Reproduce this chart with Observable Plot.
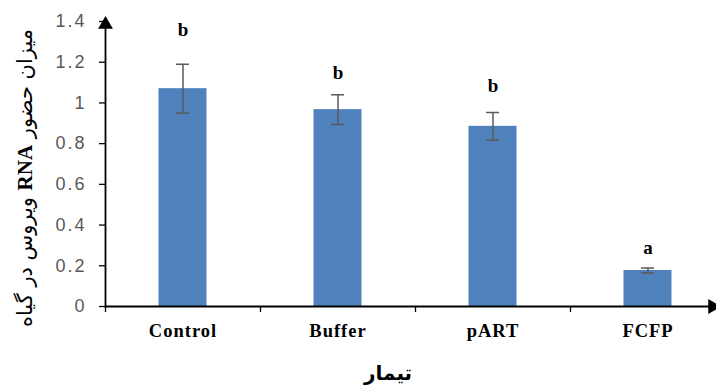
<!DOCTYPE html>
<html>
<head>
<meta charset="utf-8">
<script src="https://cdn.jsdelivr.net/npm/d3@7"></script>
<script src="https://cdn.jsdelivr.net/npm/@observablehq/plot@0.6"></script>
<style>
  html, body { margin: 0; padding: 0; background: #fff; }
  g[aria-label="x-axis tick label"] text { letter-spacing: 1px; }
  g[aria-label="y-axis tick label"] text { letter-spacing: 2px; }
</style>
</head>
<body>
<div id="chart"></div>
<script>
const categories = ["Control", "Buffer", "pART", "FCFP"];
const means = [1.07, 0.967, 0.885, 0.177];
const errors = [0.12, 0.073, 0.068, 0.012];
const letters = ["b", "b", "b", "a"];
const letterY = [1.327, 1.119, 1.053, 0.26];
const yTicks = [0, 0.2, 0.4, 0.6, 0.8, 1, 1.2, 1.4];
const yLabelParts = ["میزان حضور ", "RNA", " ویروس در گیاه"];
const yLabel = yLabelParts.join("");
const xLabel = "تیمار";

const data = categories.map((c, i) => ({
  cat: c, mean: means[i], lo: means[i] - errors[i], hi: means[i] + errors[i],
  letter: letters[i], ly: letterY[i]
}));

const W = 716, H = 385;
const mL = 105, mR = 2, mT = 21, mB = 79;
const xRange = [105, 725];
const step = (xRange[1] - xRange[0]) / categories.length;
const barW = 48;
const inset = (step - barW) / 2;
const capInset = (step - 13) / 2;

const plot = Plot.plot({
  width: W, height: H,
  marginLeft: mL, marginRight: mR, marginTop: mT, marginBottom: mB,
  style: { background: "#fff", overflow: "visible" },
  x: { domain: categories, range: xRange, padding: 0, axis: null },
  y: { domain: [0, 1.4], axis: null },
  marks: [
    Plot.barY(data, { x: "cat", y: "mean", fill: "#4F81BD", insetLeft: inset, insetRight: inset }),
    Plot.ruleX(data, { x: "cat", y1: "lo", y2: "hi", stroke: "#5a5a5a", strokeWidth: 1.5 }),
    Plot.tickY(data, { x: "cat", y: "hi", stroke: "#5a5a5a", strokeWidth: 1.5, insetLeft: capInset, insetRight: capInset }),
    Plot.tickY(data, { x: "cat", y: "lo", stroke: "#5a5a5a", strokeWidth: 1.5, insetLeft: capInset, insetRight: capInset }),
    Plot.text(data, { x: "cat", y: "ly", text: "letter", lineAnchor: "bottom", fontWeight: "bold",
      fontFamily: "Liberation Serif", fontSize: 19, fill: "#000" }),
    Plot.axisY({ ticks: yTicks, tickSize: 6, tickPadding: 13, tickFormat: d => String(d),
      fontSize: 18, fontFamily: "Liberation Sans", fill: "#595959", stroke: "#000", strokeWidth: 1.3,
      label: null }),
    Plot.axisX({ tickSize: 0, tickPadding: 17, fontSize: 18.5, fontWeight: "bold",
      fontFamily: "Liberation Serif", fill: "#000", label: null }),
    Plot.ruleX(categories, { x: d => d, y1: 0, y2: 0, dx: -step / 2, insetBottom: -6, stroke: "#000", strokeWidth: 1.3 }),
    Plot.ruleY([0], { stroke: "#000", strokeWidth: 1.8 }),
    Plot.frame({ anchor: "left", stroke: "#000", strokeWidth: 1.8 }),
    // arrowheads at the axis ends
    Plot.dot([0], { frameAnchor: "top-left", symbol: "triangle", r: 5.5, fill: "#000", stroke: null, dy: 3 }),
    Plot.dot([0], { frameAnchor: "bottom-right", symbol: "triangle", rotate: 90, r: 5.5, fill: "#000", stroke: null, dx: -2 }),
    Plot.text([yLabel], { frameAnchor: "left", text: d => d, rotate: -90, dx: -80, dy: 14,
      textAnchor: "middle", lineAnchor: "middle",
      fontSize: 21, fontFamily: "DejaVu Sans", fill: "#000" }),
    Plot.text([xLabel], { frameAnchor: "bottom", text: d => d, dx: -22, dy: 67,
      textAnchor: "middle", lineAnchor: "middle",
      fontSize: 20, fontWeight: "bold", fontFamily: "DejaVu Sans", fill: "#000" })
  ]
});

const svg = d3.select(plot);
// bold serif RNA inside the y label
svg.selectAll("text").each(function () {
  if (this.textContent === yLabel) {
    const t = d3.select(this);
    t.attr("direction", "rtl").text(null);
    t.append("tspan").text(yLabelParts[0]);
    t.append("tspan").attr("font-family", "Liberation Serif").attr("font-weight", "bold").text(yLabelParts[1]);
    t.append("tspan").text(yLabelParts[2]);
  }
});
document.getElementById("chart").appendChild(plot);
</script>
</body>
</html>
